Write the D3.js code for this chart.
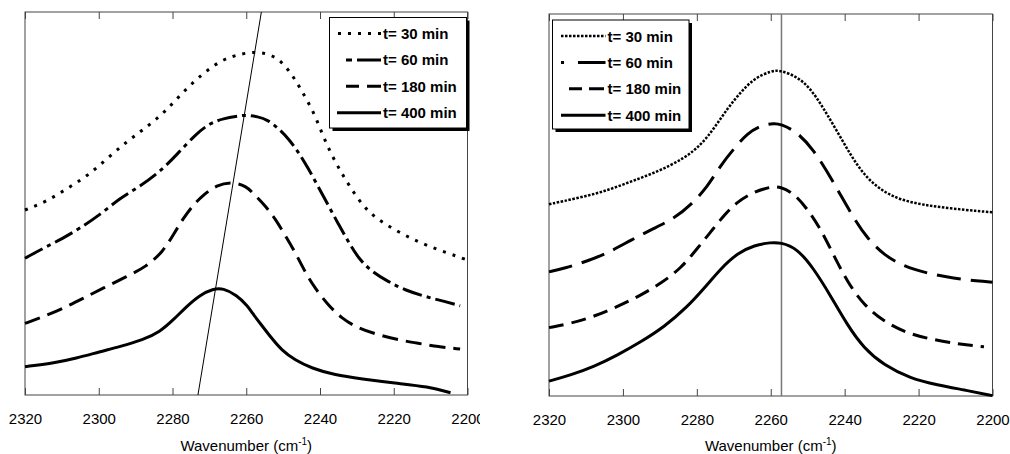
<!DOCTYPE html>
<html>
<head>
<meta charset="utf-8">
<script src="https://cdn.jsdelivr.net/npm/d3@7"></script>
<style>
  body { margin: 0; background: #fff; }
  text { font-family: "Liberation Sans", Arial, sans-serif; }
</style>
</head>
<body>
<svg id="chart" width="1010" height="454"></svg>
<script>
const xTicks = [2320, 2300, 2280, 2260, 2240, 2220, 2200];
const seriesNames = ["t= 30 min", "t= 60 min", "t= 180 min", "t= 400 min"];

// left panel spectra  [wavenumber, intensity (a.u.)]
const leftT30 = [[2320,48.3],[2314.2,50.5],[2308.8,53.8],[2303.3,57.0],[2297.9,61.6],[2292.5,66.1],[2287.5,69.6],[2282.1,73.8],[2277.1,79.2],[2271.7,84.0],[2266.7,87.5],[2261.3,89.2],[2256.8,89.6],[2253.1,88.8],[2250.4,87.0],[2248.2,84.4],[2246.4,81.8],[2244.6,78.8],[2241.8,74.0],[2239.6,68.7],[2237.3,63.5],[2234.6,58.7],[2231.9,54.4],[2228.3,49.2],[2224.2,45.7],[2218.8,42.6],[2213.4,40.0],[2207.9,37.9],[2202.5,36.1],[2200,35.2]];
const leftT60 = [[2320,35.7],[2315.1,38.3],[2309.7,40.9],[2305.2,43.5],[2299.7,47.0],[2294.3,51.4],[2288.9,54.4],[2283.4,58.3],[2278.9,62.7],[2273.5,68.3],[2269.9,70.9],[2266.3,72.2],[2261.7,72.9],[2260.4,73.1],[2256.8,72.7],[2254.1,71.8],[2251.3,69.6],[2248.6,67.0],[2245.9,63.5],[2243.2,59.2],[2240.5,54.4],[2237.8,49.6],[2235.1,44.8],[2232.3,40.0],[2229.6,35.7],[2226.0,32.2],[2221.5,29.6],[2217.0,27.4],[2211.5,25.7],[2206.1,24.4],[2202.0,23.3]];
const leftT180 = [[2320,18.7],[2315.1,20.4],[2309.7,22.6],[2304.3,25.2],[2298.8,27.9],[2292.5,30.9],[2287.1,33.5],[2282.6,37.4],[2279.8,41.8],[2277.1,46.1],[2274.4,49.6],[2271.7,52.2],[2268.1,54.8],[2263.6,55.7],[2259.9,54.4],[2258.6,53.1],[2255.0,49.6],[2252.2,46.1],[2249.5,41.8],[2246.8,37.4],[2244.1,32.2],[2241.4,27.9],[2237.8,23.5],[2234.1,20.0],[2229.6,17.4],[2224.2,15.7],[2218.8,14.4],[2213.4,13.5],[2207.9,12.6],[2202.0,12.0]];
const leftT400 = [[2320,7.4],[2312.4,8.3],[2306.1,9.6],[2299.7,11.3],[2294.3,12.6],[2288.0,14.4],[2283.4,16.5],[2279.8,19.6],[2276.2,23.1],[2272.6,26.1],[2269.0,27.7],[2266.3,27.9],[2262.6,26.1],[2259.5,23.1],[2258.6,21.7],[2255.9,18.3],[2253.1,14.8],[2250.4,11.7],[2246.8,9.1],[2242.3,7.0],[2236.0,5.2],[2228.7,4.2],[2219.7,3.1],[2210.6,2.2],[2204.6,0.6]];
const leftShiftLine = [[2255.9,100],[2273.1,0]];

// right panel spectra
const rightT30 = [[2320,50.2],[2312.3,51.8],[2305.1,53.5],[2297.9,56.1],[2290.6,58.7],[2283.4,62.2],[2278.9,65.7],[2275.3,70.1],[2271.7,75.3],[2268.0,79.7],[2264.4,83.2],[2259.9,85.1],[2257.4,85.3],[2252.9,83.6],[2249.3,80.6],[2245.7,75.3],[2242.0,69.2],[2238.4,63.1],[2234.8,57.9],[2230.3,53.9],[2224.9,51.3],[2218.6,50.0],[2211.3,49.1],[2204.1,48.4],[2200,48.1]];
const rightT60 = [[2320,32.5],[2315.9,33.4],[2309.6,35.3],[2303.3,37.8],[2297.9,40.8],[2291.6,43.9],[2286.1,46.5],[2281.6,50.0],[2277.1,54.8],[2273.5,60.5],[2269.9,64.8],[2266.3,68.8],[2262.6,70.9],[2259.0,71.4],[2257.4,71.2],[2252.9,69.2],[2248.4,64.4],[2244.7,58.7],[2241.1,52.6],[2237.5,46.5],[2233.9,41.3],[2229.4,36.9],[2224.0,33.9],[2217.6,32.1],[2210.4,30.8],[2204.1,30.1],[2200,29.8]];
const rightT180 = [[2320,17.9],[2314.1,19.0],[2307.8,20.8],[2301.5,23.4],[2295.1,26.4],[2289.7,29.5],[2284.3,33.4],[2279.8,38.7],[2276.2,43.0],[2272.6,47.4],[2269.0,50.9],[2264.4,53.5],[2259.9,54.8],[2257.4,54.8],[2253.8,53.1],[2250.2,49.1],[2246.6,43.9],[2243.0,36.9],[2239.3,29.9],[2234.8,23.8],[2229.4,19.5],[2223.1,16.4],[2215.9,14.7],[2208.6,13.5],[2202.3,12.9]];
const rightT400 = [[2320,3.9],[2314.1,5.5],[2307.8,7.7],[2301.5,10.7],[2295.1,14.2],[2288.8,18.1],[2282.5,23.4],[2278.0,28.2],[2273.5,33.4],[2269.0,37.4],[2264.4,39.5],[2259.9,40.2],[2257.4,40.2],[2252.9,38.7],[2248.4,33.4],[2243.9,26.4],[2239.3,18.6],[2234.8,12.5],[2229.4,8.1],[2222.2,4.6],[2214.9,2.9],[2207.7,1.6],[2200,0.1]];
const rightPeakLine = [[2257.1,0],[2257.1,100]];

const svg = d3.select("#chart");

function drawPanel(cfg) {
  const g = svg.append("svg")
    .attr("x", cfg.left).attr("y", 0)
    .attr("width", cfg.width).attr("height", 454)
    .style("overflow", "hidden");

  const x = d3.scaleLinear().domain([2320, 2200]).range([cfg.x0, cfg.x1]);
  const y = d3.scaleLinear().domain([0, 100]).range([cfg.yb, cfg.yt]);

  const bottom = g.append("g")
    .attr("transform", `translate(0,${cfg.yb})`)
    .call(d3.axisBottom(x).tickValues(xTicks).tickFormat(d3.format("d"))
      .tickSizeInner(-7).tickSizeOuter(0).tickPadding(18));
  bottom.select(".domain").remove();
  bottom.selectAll("line").attr("stroke", "#444");
  bottom.selectAll("text").attr("font-size", 15).attr("fill", "#000");

  const top = g.append("g")
    .attr("transform", `translate(0,${cfg.yt})`)
    .call(d3.axisTop(x).tickValues(xTicks).tickFormat("")
      .tickSizeInner(-7).tickSizeOuter(0));
  top.select(".domain").remove();
  top.selectAll("line").attr("stroke", "#444");

  g.append("rect")
    .attr("x", cfg.x0).attr("y", cfg.yt)
    .attr("width", cfg.x1 - cfg.x0).attr("height", cfg.yb - cfg.yt)
    .attr("fill", "none").attr("stroke", "#444").attr("stroke-width", 1);

  const title = g.append("text")
    .attr("x", (cfg.x0 + cfg.x1) / 2).attr("y", 451)
    .attr("text-anchor", "middle").attr("font-size", 15);
  title.append("tspan").text("Wavenumber (cm");
  title.append("tspan").attr("font-size", 10).attr("dy", -6).text("-1");
  title.append("tspan").attr("dy", 6).text(")");

  const line = d3.line().x(d => x(d[0])).y(d => y(d[1])).curve(d3.curveBasis);

  // guide line
  g.append("path")
    .datum(cfg.guide)
    .attr("d", d3.line().x(d => x(d[0])).y(d => y(d[1])))
    .attr("fill", "none")
    .attr("stroke", cfg.guideColor)
    .attr("stroke-width", cfg.guideWidth);

  cfg.series.forEach(s => {
    g.append("path")
      .datum(s.data)
      .attr("d", line)
      .attr("fill", "none")
      .attr("stroke", "#000")
      .attr("stroke-width", s.w)
      .attr("stroke-dasharray", s.dash);
  });

  // legend
  const lg = cfg.legend;
  g.append("rect")
    .attr("x", lg.x + 3).attr("y", lg.y + 3)
    .attr("width", lg.w).attr("height", lg.h).attr("fill", "#000");
  g.append("rect")
    .attr("x", lg.x).attr("y", lg.y)
    .attr("width", lg.w).attr("height", lg.h)
    .attr("fill", "#fff").attr("stroke", "#000").attr("stroke-width", 1);

  cfg.series.forEach((s, i) => {
    const cy = lg.y + 16 + i * 26.4;
    g.append("line")
      .attr("x1", s.lx0).attr("x2", lg.tx - 2)
      .attr("y1", cy).attr("y2", cy)
      .attr("stroke", "#000").attr("stroke-width", s.w)
      .attr("stroke-dasharray", s.ldash || s.dash);
    g.append("text")
      .attr("x", lg.tx).attr("y", cy + 5.5)
      .attr("font-size", 15).attr("font-weight", "bold")
      .text(seriesNames[i]);
  });
}

drawPanel({
  left: 0, width: 480,
  x0: 25, x1: 467.5, yt: 12, yb: 395,
  guide: leftShiftLine, guideColor: "#000", guideWidth: 1,
  legend: { x: 329.5, y: 17.5, w: 137, h: 110.5, tx: 383 },
  series: [
    { data: leftT30, dash: "3,7", w: 3, lx0: 338 },
    { data: leftT60, dash: "20,5,4,5", ldash: "6,5,40", w: 3, lx0: 346 },
    { data: leftT180, dash: "16,8", ldash: "13,8,16", w: 3, lx0: 346 },
    { data: leftT400, dash: null, w: 3, lx0: 337 }
  ]
});

drawPanel({
  left: 520, width: 490,
  x0: 29, x1: 472.5, yt: 14, yb: 396,
  guide: rightPeakLine, guideColor: "#777", guideWidth: 1.5,
  legend: { x: 32.5, y: 20, w: 136.5, h: 109, tx: 87.5 },
  series: [
    { data: rightT30, dash: "2.5,1.5", w: 2.5, lx0: 41 },
    { data: rightT60, dash: "24,10", ldash: "3,14,40", w: 3, lx0: 41 },
    { data: rightT180, dash: "15,8", ldash: "13,7,15", w: 3, lx0: 49 },
    { data: rightT400, dash: null, w: 3, lx0: 41 }
  ]
});
</script>
</body>
</html>
